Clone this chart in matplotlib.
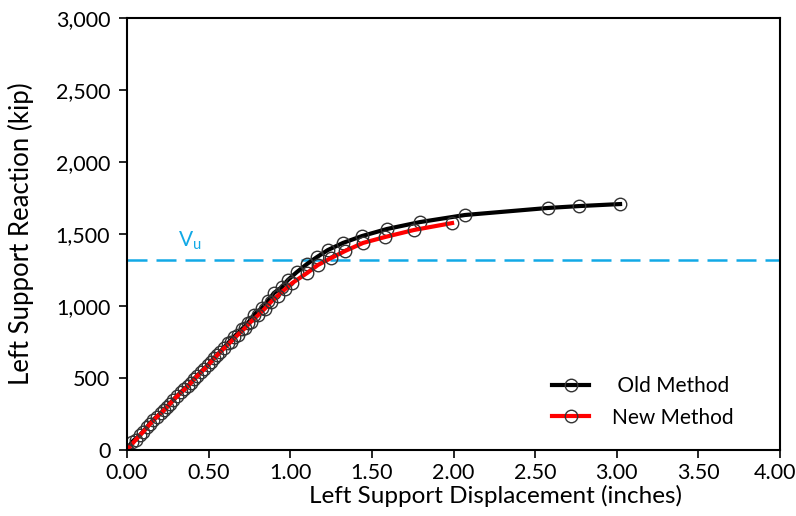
import matplotlib
matplotlib.use("Agg")
import matplotlib.pyplot as plt
from matplotlib.ticker import FuncFormatter
from matplotlib.transforms import ScaledTranslation

# Old method (displacement in inches, reaction in kip)
old_x = [0.00, 0.031, 0.080, 0.123, 0.159, 0.208, 0.245, 0.282, 0.331, 0.374,
         0.410, 0.453, 0.496, 0.533, 0.570, 0.619, 0.655, 0.704, 0.741, 0.778,
         0.827, 0.864, 0.900, 0.949, 0.986, 1.041, 1.103, 1.164, 1.231, 1.323,
         1.440, 1.593, 1.795, 2.070, 2.579, 2.769, 3.020]
old_y = [0, 56, 104, 160, 208, 257, 299, 347, 403, 444,
         493, 542, 590, 639, 681, 743, 785, 840, 882, 938,
         986, 1035, 1090, 1132, 1181, 1236, 1292, 1340, 1389, 1438,
         1486, 1535, 1583, 1632, 1681, 1694, 1708]

# New method
new_x = [0.00, 0.055, 0.101, 0.141, 0.183, 0.226, 0.263, 0.306, 0.352, 0.392,
         0.431, 0.474, 0.514, 0.551, 0.594, 0.637, 0.679, 0.722, 0.759, 0.802,
         0.845, 0.882, 0.924, 0.967, 1.013, 1.103, 1.170, 1.250, 1.336, 1.446,
         1.580, 1.758, 1.991]
new_y = [0, 72, 128, 180, 230, 275, 320, 372, 420, 466,
         515, 562, 610, 657, 705, 752, 800, 845, 890, 935,
         982, 1028, 1072, 1115, 1160, 1229, 1285, 1333, 1382, 1438,
         1479, 1528, 1576]

vu = 1320

plt.rcParams["font.family"] = ["Lato", "DejaVu Sans"]

fig = plt.figure(figsize=(7.96, 5.16), dpi=100)
ax = fig.add_axes([0.1595, 0.128, 0.8205, 0.837])

mk = dict(marker="o", markersize=9, markerfacecolor="none",
          markeredgecolor="#333333", markeredgewidth=1.0)
ax.axhline(vu, color="#12a9e6", lw=1.8, dashes=(8, 3.6))
ax.plot(old_x, old_y, color="black", lw=3, label=" Old Method", **mk)
ax.plot(new_x, new_y, color="red", lw=3, label="New Method", **mk)

ax.text(0.31, 1415, r"$\mathregular{V_u}$", color="#12a9e6", fontsize=15)

ax.set_xlim(0, 4)
ax.set_ylim(0, 3000)
ax.set_xticks([i * 0.5 for i in range(9)])
ax.set_yticks(range(0, 3001, 500))
ax.xaxis.set_major_formatter(FuncFormatter(lambda v, p: f"{v:.2f}"))
ax.yaxis.set_major_formatter(FuncFormatter(lambda v, p: f"{int(v):,}"))
ax.tick_params(direction="out", length=6, width=1.2, labelsize=15.5)
ax.tick_params(axis="y", pad=6)
for s in ax.spines.values():
    s.set_linewidth(1.5)

# keep the last x label inside the figure
last = ax.get_xticklabels()[-1]
last.set_transform(last.get_transform() + ScaledTranslation(-0.05, 0, fig.dpi_scale_trans))

ax.set_xlabel("Left Support Displacement (inches)", fontsize=17.5)
ax.xaxis.set_label_coords(0.565, -0.08)
ax.set_ylabel("Left Support Reaction (kip)", fontsize=18.5)
ax.yaxis.set_label_coords(-0.142, 0.5)

ax.legend(loc="lower right", bbox_to_anchor=(0.958, 0.008), frameon=False,
          fontsize=15, handlelength=1.8, labelspacing=0.55, handletextpad=1.1)

fig.savefig("out.png", dpi=100)
